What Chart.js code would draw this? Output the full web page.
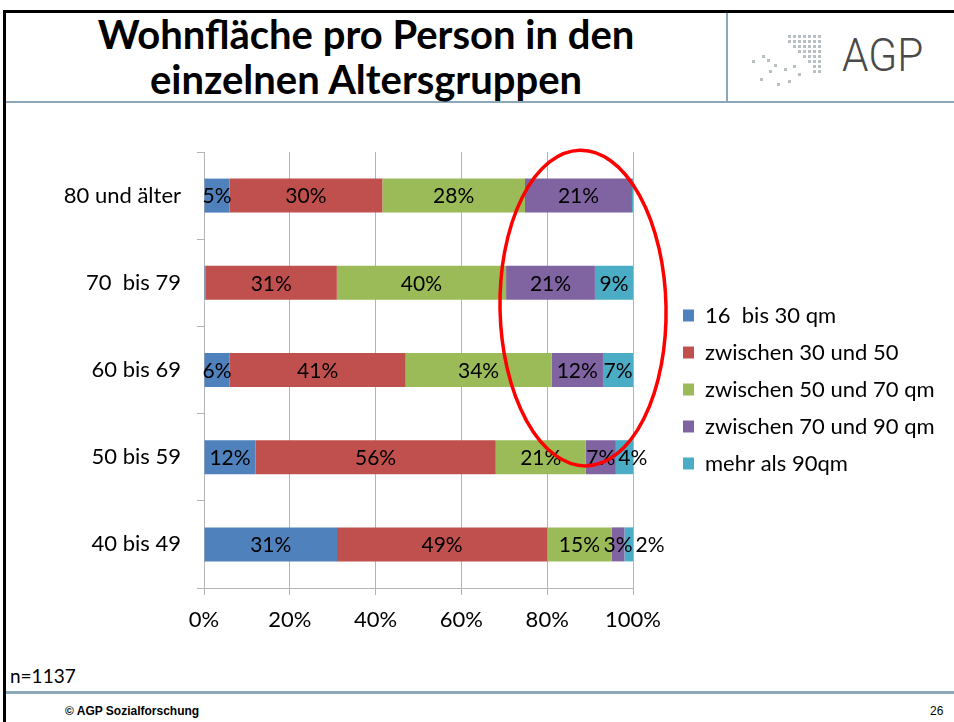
<!DOCTYPE html>
<html lang="de">
<head>
<meta charset="utf-8">
<title>Wohnfläche pro Person in den einzelnen Altersgruppen</title>
<script src="https://cdn.jsdelivr.net/npm/chart.js@4.4.1/dist/chart.umd.min.js"></script>
<style>
    html, body { margin: 0; padding: 0; background: #fff; }
    body { width: 954px; height: 722px; position: relative; overflow: hidden; font-family: Lato, "Noto Sans", sans-serif; }
    .rule { position: absolute; }
    .frame-top { left: 3px; top: 10px; width: 951px; height: 3px; background: #000; }
    .frame-left { left: 3px; top: 10px; width: 3px; height: 712px; background: #000; }
    .head-split { left: 726px; top: 13px; width: 2px; height: 89px; background: #8ba7b8; }
    .head-line { left: 6px; top: 101px; width: 948px; height: 2px; background: #8ba7b8; }
    .foot-line { left: 6px; top: 691px; width: 948px; height: 3px; background: #8ba7b8; }
    .title { position: absolute; left: 6px; top: 12px; width: 720px; text-align: center;
             font: bold 40px/45px Lato, sans-serif; color: #000; }
    .logo { position: absolute; left: 740px; top: 28px; }
    .logo-text { position: absolute; left: 842px; top: 28px; font: 300 47px/54px Roboto, sans-serif;
                 color: #4a4a4a; transform: scaleX(0.9); transform-origin: left top; }
    .note { position: absolute; left: 10px; top: 666px; font: 19px/20px Lato, sans-serif; color: #000; }
    .foot { position: absolute; top: 704px; font: 12px/14px "Liberation Sans", Arial, sans-serif; color: #000; }
    #chart { position: absolute; left: 0; top: 120px; }
</style>
</head>
<body>
<div class="rule frame-top"></div>
<div class="rule frame-left"></div>
<div class="rule head-split"></div>
<div class="rule head-line"></div>
<div class="rule foot-line"></div>

<div class="title">Wohnfläche pro Person in den<br>einzelnen Altersgruppen</div>

<svg class="logo" width="90" height="62" id="logo-dots"></svg>
<div class="logo-text">AGP</div>

<canvas id="chart" width="954" height="540"></canvas>

<div class="note">n=1137</div>
<div class="foot" style="left:65px;font-weight:bold">© AGP Sozialforschung</div>
<div class="foot" style="left:930px">26</div>

<script>
// Altersgruppen (von oben nach unten) und Wohnflächen-Klassen
const ageGroups = ['80 und älter', '70  bis 79', '60 bis 69', '50 bis 59', '40 bis 49'];
const sizeClasses = ['16  bis 30 qm', 'zwischen 30 und 50', 'zwischen 50 und 70 qm', 'zwischen 70 und 90 qm', 'mehr als 90qm'];

// Anteile in % je Altersgruppe (wie beschriftet, Balken auf 100% normiert)
const share16to30 = [5, 0.4, 6, 12, 31];
const share30to50 = [30, 31, 41, 56, 49];
const share50to70 = [28, 40, 34, 21, 15];
const share70to90 = [21, 21, 12, 7, 3];
const shareOver90 = [0.2, 9, 7, 4, 2];

const xTicks = [0, 20, 40, 60, 80, 100];

const seriesValues = [share16to30, share30to50, share50to70, share70to90, shareOver90];
const seriesColors = ['#4f81bd', '#c0504d', '#9bbb59', '#8064a2', '#4bacc6'];

const FONT = 'Lato';
const gridColor = '#b4b4b4';
const legendFontSize = 22;
const legendPad = 15;
const legendGap = 35;
// Chart.js caps each side box at availableWidth / 2 / 3 (y, spacer, legend);
// pick the right padding so the legend box starts at x=668 and the plot ends at 633
const legendLeft = 668;
const padRight = 954 - legendLeft * 6 / 5;

// logo dots (nur Dekoration)
(function drawLogo() {
    const svg = document.getElementById('logo-dots');
    let html = '';
    const starts = [0, 0, 1, 2, 3, 4, 5, 5];
    starts.forEach((s, r) => {
        for (let c = s; c < 7; c++) {
            html += `<rect x="${48 + c * 5}" y="${7 + r * 5}" width="3" height="3" fill="#b9c0c4"/>`;
        }
    });
    [[12, 32], [22, 27], [27, 31], [34, 36], [29, 42], [44, 40], [53, 37], [20, 50], [37, 55], [48, 52], [58, 45]].forEach(([x, y]) => {
        html += `<rect x="${x}" y="${y}" width="3" height="3" fill="#b9c0c4"/>`;
    });
    svg.innerHTML = html;
})();

const totals = ageGroups.map((_, i) => seriesValues.reduce((s, arr) => s + arr[i], 0));

const segmentLabels = {
    id: 'segmentLabels',
    afterDatasetsDraw(chart) {
        const ctx = chart.ctx;
        ctx.save();
        ctx.font = `21px ${FONT}`;
        ctx.fillStyle = '#000';
        ctx.textAlign = 'center';
        ctx.textBaseline = 'middle';
        ageGroups.forEach((_, i) => {
            let lastRight = -Infinity;
            seriesValues.forEach((series, d) => {
                const v = series[i];
                if (v < 1) return;
                const bar = chart.getDatasetMeta(d).data[i];
                const text = Math.round(v) + '%';
                const w = ctx.measureText(text).width;
                let cx = (bar.x + bar.base) / 2;
                if (cx - w / 2 < lastRight + 3) cx = lastRight + 3 + w / 2;
                ctx.fillText(text, cx, bar.y + 1);
                lastRight = cx + w / 2;
            });
        });
        ctx.restore();
    }
};

// legend box is capped in width by the layout; let it run to the canvas edge so the text isn't clipped
const widenLegend = {
    id: 'widenLegend',
    afterLayout(chart) {
        chart.legend.right = chart.width;
        chart.legend.width = chart.width - chart.legend.left;
    }
};

const highlightRing = {
    id: 'highlightRing',
    afterDraw(chart) {
        const { x, y } = chart.scales;
        const left = x.getPixelForValue(69), right = x.getPixelForValue(107.7);
        const top = y.getPixelForValue(-0.52), bottom = y.getPixelForValue(3.1);
        const ctx = chart.ctx;
        ctx.save();
        ctx.strokeStyle = '#ff0000';
        ctx.lineWidth = 3.5;
        ctx.beginPath();
        ctx.ellipse((left + right) / 2, (top + bottom) / 2, (right - left) / 2, (bottom - top) / 2, -0.02, 0, Math.PI * 2);
        ctx.stroke();
        ctx.restore();
    }
};

new Chart(document.getElementById('chart'), {
    type: 'bar',
    data: {
        labels: ageGroups,
        datasets: sizeClasses.map((name, d) => ({
            label: name,
            data: seriesValues[d].map((v, i) => v / totals[i] * 100),
            backgroundColor: seriesColors[d],
            borderWidth: 0,
            barPercentage: 0.39,
            categoryPercentage: 1
        }))
    },
    options: {
        indexAxis: 'y',
        responsive: false,
        animation: false,
        devicePixelRatio: 1,
        events: [],
        layout: { padding: { top: 32, bottom: 33, left: 0, right: padRight } },
        scales: {
            x: {
                stacked: true, min: 0, max: 100,
                grid: { color: gridColor, tickLength: 7 },
                border: { color: gridColor },
                ticks: { padding: 12, color: '#000', font: { family: FONT, size: 22 }, callback: v => v + '%' },
                afterBuildTicks: s => { s.ticks = xTicks.map(v => ({ value: v })); },
                afterFit: s => { s.height = 39; }
            },
            y: {
                stacked: true,
                grid: { drawOnChartArea: false, tickLength: 7, color: gridColor },
                border: { color: gridColor },
                ticks: { padding: 16, color: '#000', font: { family: FONT, size: 22 } },
                afterFit: s => { s.width = 204; }
            },
            spacer: {
                type: 'category', axis: 'y', position: 'right',
                grid: { display: false }, border: { display: false }, ticks: { display: false },
                afterFit: s => { s.width = legendGap; }
            }
        },
        plugins: {
            tooltip: { enabled: false },
            legend: {
                position: 'right',
                align: 'center',
                labels: { boxWidth: 11, boxHeight: 12, padding: legendPad, color: '#000', font: { family: FONT, size: legendFontSize } }
            }
        }
    },
    plugins: [segmentLabels, widenLegend, highlightRing]
});
</script>
</body>
</html>
